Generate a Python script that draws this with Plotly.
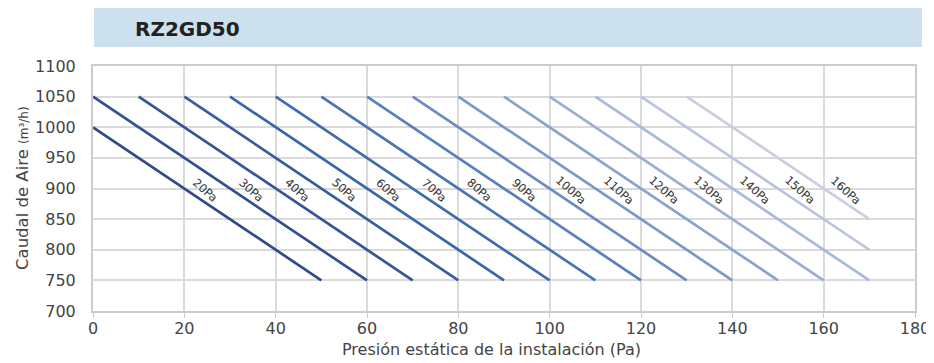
import plotly.graph_objects as go

# Data
pressures = [20, 30, 40, 50, 60, 70, 80, 90, 100, 110, 120, 130, 140, 150, 160]
x_start = [0, 0, 10, 20, 30, 40, 50, 60, 70, 80, 90, 100, 110, 120, 130]
y_start = [1000, 1050, 1050, 1050, 1050, 1050, 1050, 1050, 1050, 1050, 1050, 1050, 1050, 1050, 1050]
x_end = [50, 60, 70, 80, 90, 100, 110, 120, 130, 140, 150, 160, 170, 170, 170]
y_end = [750, 750, 750, 750, 750, 750, 750, 750, 750, 750, 750, 750, 750, 800, 850]
label_x = [24.5, 34.6, 44.7, 55.0, 64.6, 74.6, 84.6, 94.4, 104.6, 115.0, 125.0, 134.8, 144.9, 154.8, 164.7]
label_y = [897] * 15
x_ticks = [0, 20, 40, 60, 80, 100, 120, 140, 160, 180]
y_ticks = [700, 750, 800, 850, 900, 950, 1000, 1050, 1100]

colors = ["#2f4a86", "#30508f", "#335796", "#365e9e", "#3a65a6", "#3f6cad",
          "#4974b4", "#5a80ba", "#6a8cc1", "#7a98c8", "#8aa3cd", "#9aafd2",
          "#a9b9d8", "#bac4dc", "#c9cfdf"]

FONT = "DejaVu Sans, sans-serif"
OFF = 8  # page body margin
W, H = 934 - OFF, 363 - OFF
L = 93 - OFF
T = 66 - OFF
R = W - (915 - OFF)
B = H - (311 - OFF)
PW, PH = W - L - R, H - T - B


def px_x(x):
    return (x - OFF - L) / PW


def px_y(y):
    return (H - B - (y - OFF)) / PH


fig = go.Figure()
for i, p in enumerate(pressures):
    fig.add_trace(go.Scatter(
        x=[x_start[i], x_end[i]], y=[y_start[i], y_end[i]],
        mode="lines", line=dict(color=colors[i], width=2.7),
        showlegend=False, hoverinfo="skip"))
    fig.add_annotation(x=label_x[i], y=label_y[i], text=f"{p}Pa", showarrow=False,
                       textangle=42, font=dict(family=FONT, size=11.5, color="#333333"))

# title bar
fig.add_shape(type="rect", xref="paper", yref="paper",
              x0=px_x(94), x1=px_x(922), y0=px_y(47), y1=px_y(8),
              fillcolor="#cde0ee", line=dict(width=0), layer="below")
fig.add_annotation(xref="paper", yref="paper", x=px_x(133), y=px_y(29),
                   xanchor="left", yanchor="middle", text="<b>RZ2GD50</b>", showarrow=False,
                   font=dict(family=FONT, size=20, color="#222222"))

# axis titles
fig.add_annotation(xref="paper", yref="paper", x=px_x(491), y=px_y(349),
                   xanchor="center", yanchor="middle", showarrow=False,
                   text="Presión estática de la instalación (Pa)",
                   font=dict(family=FONT, size=16, color="#444444"))
fig.add_annotation(xref="paper", yref="paper", x=px_x(22), y=px_y(188),
                   xanchor="center", yanchor="middle", showarrow=False, textangle=-90,
                   text="Caudal de Aire <span style='font-size:12px'>(m³/h)</span>",
                   font=dict(family=FONT, size=16.5, color="#444444"))

fig.update_layout(
    width=W, height=H,
    margin=dict(l=L, r=R, t=T, b=B),
    paper_bgcolor="white", plot_bgcolor="white",
    font=dict(family=FONT, size=15, color="#444444"),
    xaxis=dict(range=[0, 180], tickvals=x_ticks, showgrid=True, gridcolor="#dadada", gridwidth=1.5,
               showline=True, linecolor="#cccccc", linewidth=2, mirror=True, automargin=False,
               ticks="outside", ticklen=5, tickcolor="#cccccc", zeroline=False,
               ticklabelstandoff=-3,
               tickfont=dict(family=FONT, size=16, color="#444444")),
    yaxis=dict(range=[700, 1100], tickvals=y_ticks, showgrid=True, gridcolor="#dadada", gridwidth=1.5,
               showline=True, linecolor="#cccccc", linewidth=2, mirror=True, automargin=False,
               ticks="", zeroline=False, ticklabelstandoff=12,
               tickfont=dict(family=FONT, size=16, color="#444444")),
)

fig.write_html("out.html")
